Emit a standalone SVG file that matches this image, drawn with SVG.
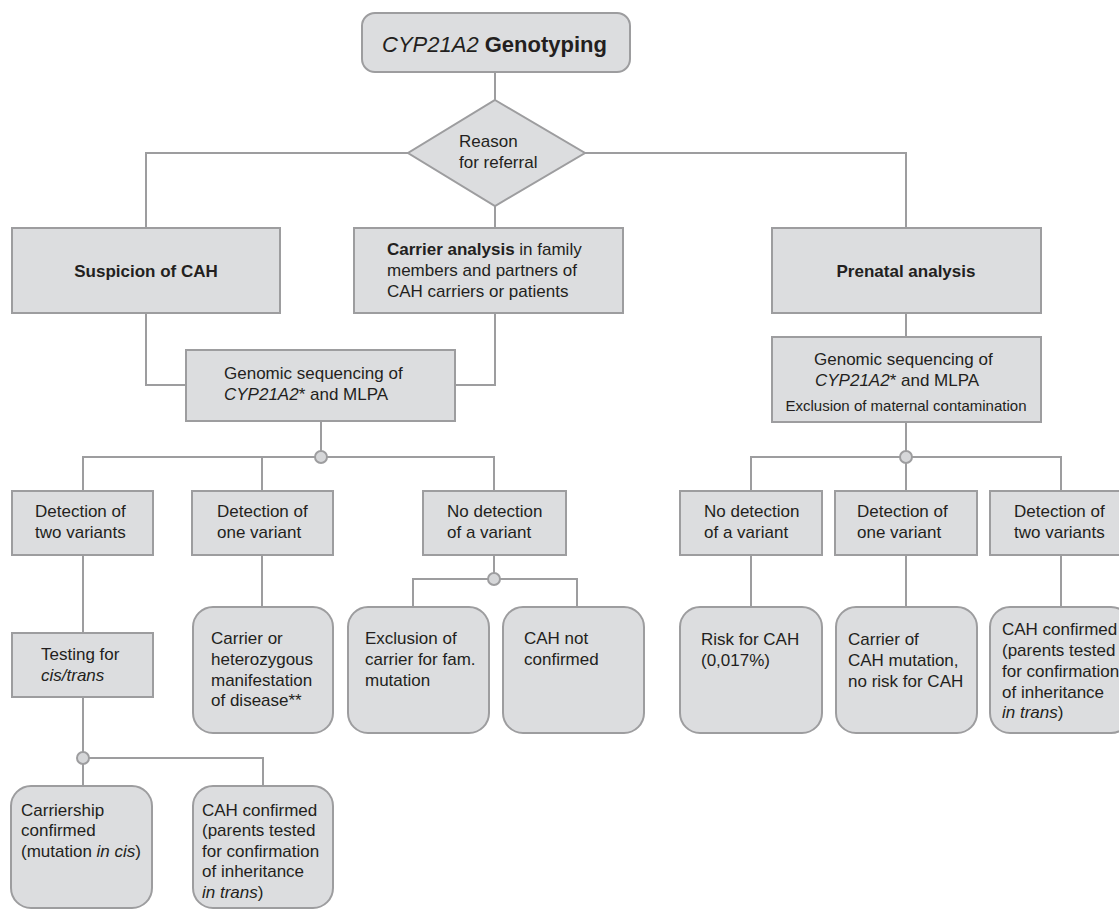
<svg xmlns="http://www.w3.org/2000/svg" width="1119" height="910" viewBox="0 0 1119 910">
<style>
.box{fill:#dcdddf;stroke:#9d9d9f;stroke-width:2}
.ln{fill:none;stroke:#9d9d9f;stroke-width:2}
.dot{fill:#d6d7d9;stroke:#9d9d9f;stroke-width:2}
text{font-family:"Liberation Sans",Arial,sans-serif;font-size:17px;fill:#231f20}
.b{font-weight:bold}
.i{font-style:italic}
.sm{font-size:15px}
</style>
<rect width="1119" height="910" fill="#ffffff"/>
<g id="connectors">
<path class="ln" d="M495 72V100"/>
<path class="ln" d="M408 153H146V228"/>
<path class="ln" d="M585 153H906V228"/>
<path class="ln" d="M495 206V228"/>
<path class="ln" d="M146 313V385H186"/>
<path class="ln" d="M495 313V385H455"/>
<path class="ln" d="M321 421V457"/>
<path class="ln" d="M83 491V457H494V491"/>
<path class="ln" d="M262 457V491"/>
<path class="ln" d="M83 555V633"/>
<path class="ln" d="M262 555V607"/>
<path class="ln" d="M494 555V579"/>
<path class="ln" d="M413 607V579H577V607"/>
<path class="ln" d="M83 697V786"/>
<path class="ln" d="M83 758H263V786"/>
<path class="ln" d="M906 313V337"/>
<path class="ln" d="M906 422V491"/>
<path class="ln" d="M751 491V457H1061V491"/>
<path class="ln" d="M751 555V607"/>
<path class="ln" d="M906 555V607"/>
<path class="ln" d="M1061 555V607"/>
<circle class="dot" cx="321" cy="457" r="6"/>
<circle class="dot" cx="494" cy="579" r="6"/>
<circle class="dot" cx="906" cy="457" r="6"/>
<circle class="dot" cx="83" cy="758" r="6"/>
</g>
<g id="n-title">
<rect class="box" x="362" y="13" width="268" height="59" rx="13"/>
<text x="382" y="52" style="font-size:22px"><tspan class="i">CYP21A2</tspan> <tspan class="b">Genotyping</tspan></text>
</g>
<g id="n-reason">
<polygon class="box" points="495,100 585,153 495,206 408,153"/>
<text x="459" y="147">Reason</text>
<text x="459" y="168">for referral</text>
</g>
<g id="n-suspicion">
<rect class="box" x="12" y="228" width="268" height="85"/>
<text class="b" x="146" y="277" text-anchor="middle">Suspicion of CAH</text>
</g>
<g id="n-carrier">
<rect class="box" x="354" y="228" width="269" height="85"/>
<text x="387" y="255"><tspan class="b">Carrier analysis</tspan> in family</text>
<text x="387" y="276">members and partners of</text>
<text x="387" y="297">CAH carriers or patients</text>
</g>
<g id="n-prenatal">
<rect class="box" x="772" y="228" width="269" height="85"/>
<text class="b" x="906" y="277" text-anchor="middle">Prenatal analysis</text>
</g>
<g id="n-genomic1">
<rect class="box" x="186" y="350" width="269" height="71"/>
<text x="224" y="379">Genomic sequencing of</text>
<text x="224" y="400"><tspan class="i">CYP21A2</tspan>* and MLPA</text>
</g>
<g id="n-genomic2">
<rect class="box" x="772" y="337" width="269" height="85"/>
<text x="814" y="365">Genomic sequencing of</text>
<text x="815" y="386"><tspan class="i">CYP21A2</tspan>* and MLPA</text>
<text class="sm" x="906" y="411" text-anchor="middle">Exclusion of maternal contamination</text>
</g>
<g id="n-two-left">
<rect class="box" x="12" y="491" width="141" height="64"/>
<text x="35" y="517">Detection of</text>
<text x="35" y="538">two variants</text>
</g>
<g id="n-one-left">
<rect class="box" x="192" y="491" width="141" height="64"/>
<text x="217" y="517">Detection of</text>
<text x="217" y="538">one variant</text>
</g>
<g id="n-none-left">
<rect class="box" x="423" y="491" width="143" height="64"/>
<text x="447" y="517">No detection</text>
<text x="447" y="538">of a variant</text>
</g>
<g id="n-none-right">
<rect class="box" x="680" y="491" width="142" height="64"/>
<text x="704" y="517">No detection</text>
<text x="704" y="538">of a variant</text>
</g>
<g id="n-one-right">
<rect class="box" x="835" y="491" width="142" height="64"/>
<text x="857" y="517">Detection of</text>
<text x="857" y="538">one variant</text>
</g>
<g id="n-two-right">
<rect class="box" x="990" y="491" width="141" height="64"/>
<text x="1014" y="517">Detection of</text>
<text x="1014" y="538">two variants</text>
</g>
<g id="n-testing">
<rect class="box" x="12" y="633" width="141" height="64"/>
<text x="41" y="660">Testing for</text>
<text class="i" x="41" y="681">cis/trans</text>
</g>
<g id="n-carrier-or">
<rect class="box" x="193" y="607" width="140" height="126" rx="20"/>
<text x="211" y="644">Carrier or</text>
<text x="211" y="665">heterozygous</text>
<text x="211" y="686">manifestation</text>
<text x="211" y="706">of disease**</text>
</g>
<g id="n-exclusion">
<rect class="box" x="348" y="607" width="141" height="126" rx="20"/>
<text x="365" y="644">Exclusion of</text>
<text x="365" y="665">carrier for fam.</text>
<text x="365" y="686">mutation</text>
</g>
<g id="n-notconfirmed">
<rect class="box" x="503" y="607" width="141" height="126" rx="20"/>
<text x="524" y="644">CAH not</text>
<text x="524" y="665">confirmed</text>
</g>
<g id="n-risk">
<rect class="box" x="680" y="607" width="142" height="126" rx="20"/>
<text x="701" y="645">Risk for CAH</text>
<text x="701" y="666">(0,017%)</text>
</g>
<g id="n-carrier-of">
<rect class="box" x="836" y="607" width="141" height="126" rx="20"/>
<text x="848" y="645">Carrier of</text>
<text x="848" y="666">CAH mutation,</text>
<text x="848" y="687">no risk for CAH</text>
</g>
<g id="n-cah-right">
<rect class="box" x="990" y="607" width="141" height="126" rx="20"/>
<text x="1002" y="635">CAH confirmed</text>
<text x="1002" y="656">(parents tested</text>
<text x="1002" y="677">for confirmation</text>
<text x="1002" y="698">of inheritance</text>
<text x="1002" y="718"><tspan class="i">in trans</tspan>)</text>
</g>
<g id="n-carriership">
<rect class="box" x="11" y="786" width="141" height="122" rx="20"/>
<text x="21" y="816">Carriership</text>
<text x="21" y="836">confirmed</text>
<text x="21" y="857">(mutation <tspan class="i">in cis</tspan>)</text>
</g>
<g id="n-cah-left">
<rect class="box" x="193" y="786" width="140" height="122" rx="20"/>
<text x="202" y="816">CAH confirmed</text>
<text x="202" y="836">(parents tested</text>
<text x="202" y="857">for confirmation</text>
<text x="202" y="877">of inheritance</text>
<text x="202" y="898"><tspan class="i">in trans</tspan>)</text>
</g>
</svg>
